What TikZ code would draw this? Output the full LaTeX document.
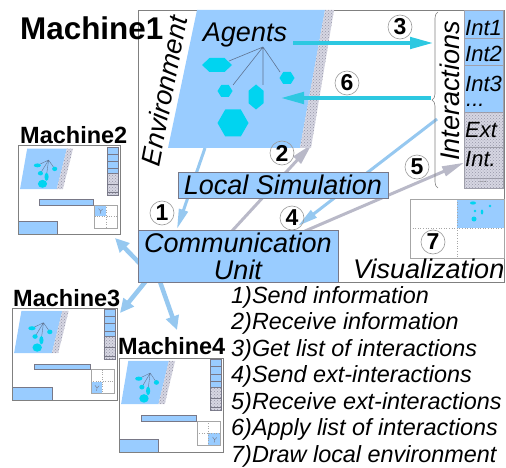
\documentclass[tikz,border=0pt]{standalone}
\usepackage{fontspec}
\setmainfont{Liberation Sans}
\usetikzlibrary{arrows.meta,patterns,decorations.pathreplacing}

\definecolor{envblue}{RGB}{153,204,255}
\definecolor{agentc}{RGB}{0,212,240}
\definecolor{flowc}{RGB}{45,200,225}
\definecolor{linkblue}{RGB}{150,200,240}
\definecolor{hatchbg}{RGB}{214,214,226}
\definecolor{hatchfg}{RGB}{150,150,168}
\definecolor{framec}{RGB}{128,128,128}
\definecolor{edgec}{RGB}{120,120,135}
\definecolor{graylink}{RGB}{185,185,200}
\definecolor{agentline}{RGB}{95,115,145}

\newcommand\lblfont{\fontsize{27}{27}\selectfont\itshape}
\newcommand\cellfont{\fontsize{22}{22}\selectfont\itshape}
\newcommand\legfont{\fontsize{23.4}{27}\selectfont\itshape}
\newcommand\numfont{\fontsize{23}{23}\selectfont\bfseries}
\newcommand\bigtitle{\fontsize{31.4}{31.4}\selectfont\bfseries}
\newcommand\smalltitle{\fontsize{23.5}{23.5}\selectfont\bfseries}

\pgfdeclarelayer{bg}
\pgfsetlayers{bg,main}

\tikzset{
  hatched/.style={fill=hatchbg, postaction={pattern=crosshatch dots, pattern color=hatchfg}},
  bluebox/.style={draw=edgec, line width=0.6pt, fill=envblue},
  cellbox/.style={draw=edgec!70, line width=0.4pt, minimum width=39pt, inner sep=0, anchor=north west},
  celltxt/.style={font=\cellfont, inner sep=0},
  lbl/.style={font=\lblfont, inner sep=0},
  agentlink/.style={draw=agentline, line width=0.6pt},
  vizline/.style={draw=framec!70, line width=0.6pt},
  numc/.style={circle, draw=framec!80, line width=0.6pt, minimum size=24pt, inner sep=0, font=\numfont},
  flowarrow/.style={draw=flowc, line width=4.5pt, -{Triangle[length=24pt,width=11pt]}},
  linkarrow/.style={draw=linkblue, line width=3pt, -{Triangle[length=20pt,width=9pt]}},
  grayarrow/.style={draw=graylink, line width=3pt, -{Triangle[length=22pt,width=10pt]}},
  netarrow/.style={draw=linkblue, line width=4.5pt, -{Triangle[length=14pt,width=13pt]}},
  miniframe/.style={draw=framec, line width=1pt, inner sep=0},
  legend/.style={font=\legfont, inner sep=0, anchor=base west}
}

% flat and upright agent hexagons: centre x, centre y, half width, half height
\newcommand\hexflat[4]{\fill[agentc] (#1-#3,#2) -- (#1-#3/2,#2-#4) -- (#1+#3/2,#2-#4) -- (#1+#3,#2) -- (#1+#3/2,#2+#4) -- (#1-#3/2,#2+#4) -- cycle;}
\newcommand\hexup[4]{\fill[agentc] (#1,#2-#4) -- (#1+#3,#2-#4/2) -- (#1+#3,#2+#4/2) -- (#1,#2+#4) -- (#1-#3,#2+#4/2) -- (#1-#3,#2-#4/2) -- cycle;}

% small copy of a machine: left, top, width, height, blue view cell (x, y)
\newcommand\minimach[6]{%
  \begin{scope}[shift={(#1,#2)},x=#3pt,y=-#4pt]
    \fill[envblue] (0.09,0.03) -- (0.48,0.03) -- (0.38,0.49) -- (0.02,0.49) -- cycle;
    \path[hatched] (0.48,0.03) -- (0.54,0.03) -- (0.44,0.49) -- (0.38,0.49) -- cycle;
    \draw[agentlink, line width=0.4pt] (0.30,0.16) -- (0.19,0.22) (0.30,0.16) -- (0.22,0.31)
      (0.30,0.16) -- (0.28,0.33) (0.30,0.16) -- (0.36,0.26);
    \fill[agentc] (0.19,0.22) ellipse [x radius=0.035, y radius=0.022];
    \fill[agentc] (0.22,0.31) circle [radius=0.025];
    \fill[agentc] (0.28,0.35) ellipse [x radius=0.02, y radius=0.045];
    \fill[agentc] (0.24,0.43) circle [radius=0.045];
    \fill[agentc] (0.36,0.26) circle [radius=0.025];
    \fill[envblue] (0.875,0.01) rectangle (0.98,0.31);
    \draw[draw=edgec, line width=0.3pt] (0.875,0.01) rectangle (0.98,0.31)
      (0.875,0.09) -- (0.98,0.09) (0.875,0.17) -- (0.98,0.17) (0.875,0.25) -- (0.98,0.25);
    \path[hatched, draw=edgec, line width=0.3pt] (0.875,0.31) rectangle (0.98,0.56);
    \draw[draw=edgec, line width=0.3pt] (0.875,0.43) -- (0.98,0.43) (0.875,0.52) -- (0.98,0.52);
    \draw[bluebox, line width=0.4pt] (0.21,0.61) rectangle (0.74,0.67);
    \fill[envblue] (#5,#6) rectangle ++(0.11,0.13);
    \begin{scope}[shift={(#5,#6)}]
      \draw[draw=edgec, line width=0.4pt] (0.04,0.04) -- (0.06,0.07) -- (0.08,0.045) (0.06,0.07) -- (0.055,0.10);
    \end{scope}
    \draw[vizline, line width=0.4pt] (0.75,0.67) rectangle (0.97,0.93);
    \draw[vizline, line width=0.4pt, dotted] (0.86,0.67) -- (0.86,0.93) (0.75,0.80) -- (0.97,0.80);
    \draw[bluebox, line width=0.4pt] (0,0.86) rectangle (0.38,1);
  \end{scope}}

\begin{document}
\begin{tikzpicture}[x=1pt,y=-1pt]
\useasboundingbox (0,0) rectangle (506,468);

% ---------- Machine 1 ----------
\node[draw=framec, line width=0.8pt, minimum width=366pt, minimum height=272pt,
      inner sep=0, anchor=north west] (m1) at (138,10) {};
\node[font=\bigtitle, inner sep=0, anchor=base west] (m1title) at (20,40) {Machine1};

% environment with its border strip
\fill[envblue] (197,10) -- (325,10) -- (300,148) -- (168,148) -- cycle;
\path[hatched] (325,10) -- (334,10) -- (311,148) -- (300,148) -- cycle;
\node[lbl, rotate=79] (envlbl) at (164,91) {Environment};

% agents
\node[lbl, anchor=base] (agents) at (245,42) {Agents};
\coordinate (hub) at (263,47);
\draw[agentlink] (hub) -- (229,61) (hub) -- (233,85) (hub) -- (263,85) (hub) -- (280,72);
\hexflat{217}{65}{15}{7}
\hexflat{225}{91}{7.5}{6}
\hexup{256}{97}{7.5}{12.5}
\hexflat{287}{78}{7.5}{6}
\hexflat{233}{123}{15.5}{13.5}

% list of interactions
\node[cellbox, fill=envblue, minimum height=28pt] (int1) at (464,10) {};
\node[cellbox, fill=envblue, minimum height=27pt] (int2) at (464,38) {};
\node[cellbox, fill=envblue, minimum height=47pt] (int3) at (464,65) {};
\node[cellbox, hatched, minimum height=35pt] (ext) at (464,112) {};
\node[cellbox, hatched, minimum height=31pt] (intb) at (464,147) {};
\node[cellbox, hatched, minimum height=10pt] (more) at (464,178) {};
\node[celltxt, anchor=base west] at (465,36) {Int1};
\node[celltxt, anchor=base west] at (465,62) {Int2};
\node[celltxt, anchor=base west] at (465,92) {Int3};
\node[celltxt, anchor=base west] at (466,107) {...};
\node[celltxt, anchor=base west] at (465,138) {Ext};
\node[celltxt, anchor=base west] at (465,166) {Int.};
\node[font=\fontsize{10}{10}\selectfont, text=framec, inner sep=0] at (483,182) {...};

\draw[framec, line width=0.6pt, decorate, decoration={brace, amplitude=6pt}] (438,188) -- (438,12);
\node[lbl, rotate=90] (intlbl) at (450,91) {Interactions};
\coordinate (b3) at (434,43);
\coordinate (b6) at (431,98);
\coordinate (b4) at (437,119);

% simulation and communication
\node[bluebox, minimum width=210pt, minimum height=26pt, text height=19pt, text depth=0pt,
      inner sep=0, font=\lblfont] (sim) at (283,185) {Local Simulation};
\node[bluebox, minimum width=200pt, minimum height=52pt, inner sep=0, align=center,
      font=\lblfont] (comm) at (238,256) {Communication\\Unit};

% visualization view
\fill[envblue] (457,199) rectangle (504,228);
\fill[agentc] (473,203) ellipse [x radius=3, y radius=1.6];
\fill[agentc] (475,211) circle [radius=1.3];
\fill[agentc] (482,212) ellipse [x radius=1.3, y radius=2.5];
\fill[agentc] (490,206) circle [radius=1.3];
\fill[agentc] (474,219) circle [radius=2.5];
\draw[vizline] (410,199) rectangle (504,258);
\draw[vizline, dotted] (457,199) -- (457,258) (410,228) -- (504,228);
\node[lbl, anchor=base west] (vizlbl) at (353,278) {Visualization};

% ---------- other machines ----------
\minimach{18}{146}{102}{88}{0.75}{0.67}
\node[miniframe, minimum width=102pt, minimum height=88pt] (m2) at (69,190) {};
\node[font=\smalltitle, inner sep=0, anchor=base west] (m2title) at (20,143) {Machine2};

\minimach{12}{308}{105}{92}{0.75}{0.80}
\node[miniframe, minimum width=105pt, minimum height=92pt] (m3) at (64.5,354) {};
\node[font=\smalltitle, inner sep=0, anchor=base west] (m3title) at (13,306) {Machine3};

\minimach{119}{358}{104}{94}{0.86}{0.80}
\node[miniframe, minimum width=104pt, minimum height=94pt] (m4) at (171,405) {};
\node[font=\smalltitle, inner sep=0, anchor=base west] (m4title) at (118,354) {Machine4};

% ---------- connectors ----------
\coordinate (envb) at (205,148);
\coordinate (c1) at (177,229);
\coordinate (c2) at (232,231);
\coordinate (s2) at (312,144);
\coordinate (c4) at (298,226);
\coordinate (c5) at (305,231);
\coordinate (cu2) at (153,277);
\coordinate (cu3) at (150,276);
\coordinate (cu4) at (158,276);
\coordinate (t2) at (115,238);
\coordinate (t3) at (120,313);
\coordinate (t4) at (177,330);
\begin{pgfonlayer}{bg}
  \draw[linkarrow] (envb) -- (c1);
  \draw[grayarrow] (c2) -- (s2);
  \draw[linkarrow] (b4) -- (c4);
  \draw[grayarrow] (c5) -- (intb.west);
  \draw[netarrow] (cu2) -- (t2);
  \draw[netarrow] (cu3) -- (t3);
  \draw[netarrow] (cu4) -- (t4);
\end{pgfonlayer}
\coordinate (a3) at (293,43);
\coordinate (a6) at (280,98);
\draw[flowarrow] (a3) -- (b3);
\draw[flowarrow] (b6) -- (a6);

% step numbers
\node[numc] (n1) at (162,213) {1};
\node[numc] (n2) at (282,153) {2};
\node[numc] (n3) at (400,27) {3};
\node[numc] (n4) at (292,218) {4};
\node[numc] (n5) at (417,167) {5};
\node[numc] (n6) at (347,83) {6};
\node[numc] (n7) at (433,242) {7};

% legend
\node[legend] (l1) at (231,303) {1)Send information};
\node[legend] (l2) at (231,329.5) {2)Receive information};
\node[legend] (l3) at (231,356) {3)Get list of interactions};
\node[legend] (l4) at (231,382.5) {4)Send ext-interactions};
\node[legend] (l5) at (231,409) {5)Receive ext-interactions};
\node[legend] (l6) at (231,435.5) {6)Apply list of interactions};
\node[legend] (l7) at (231,462) {7)Draw local environment};
\end{tikzpicture}
\end{document}
